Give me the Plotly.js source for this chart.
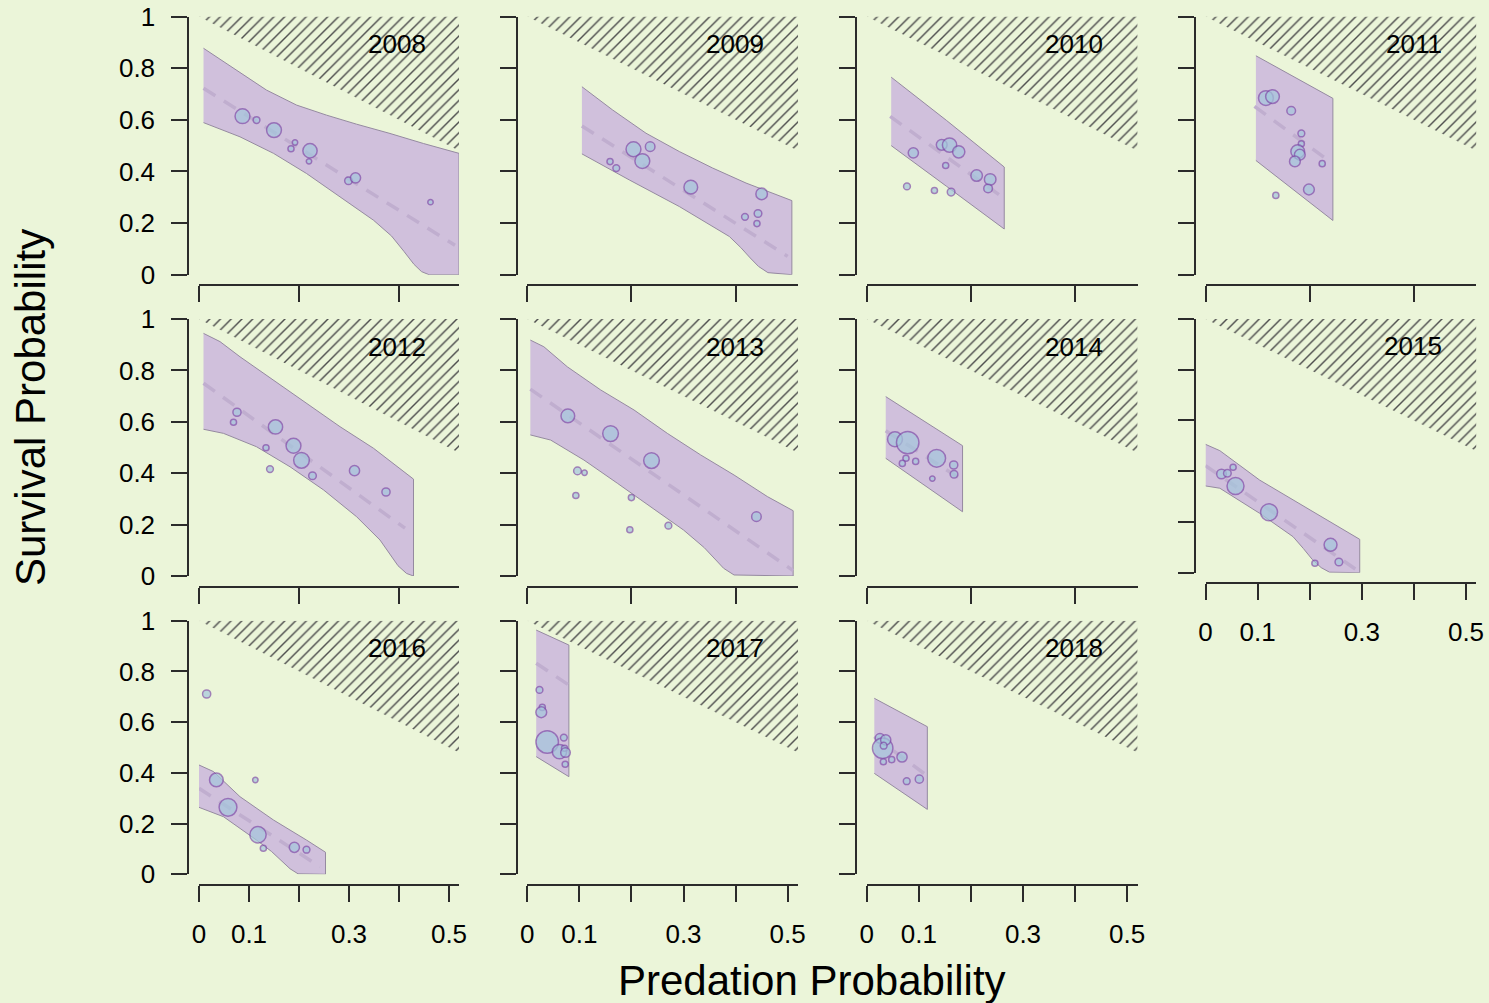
<!DOCTYPE html>
<html><head><meta charset="utf-8">
<script src="https://cdn.plot.ly/plotly-3.0.1.min.js"></script>
<style>html,body{margin:0;padding:0;background:#ebf5d9;} #chart{width:1489px;height:1003px;}</style>
</head><body><div id="chart"></div>
<script>
// ---------------- DATA ----------------
const years = ['2008','2009','2010','2011','2012','2013','2014','2015','2016','2017','2018'];

// observed points: predation probability, survival probability, relative sample size
const pointP = [
  [0.087,0.115,0.150,0.192,0.184,0.222,0.220,0.299,0.313,0.463],
  [0.159,0.171,0.204,0.236,0.221,0.314,0.450,0.418,0.443,0.441],
  [0.0895,0.0773,0.130,0.162,0.144,0.159,0.1766,0.1516,0.211,0.237,0.233],
  [0.116,0.1286,0.1645,0.184,0.184,0.177,0.181,0.1716,0.224,0.1985,0.135],
  [0.076,0.069,0.153,0.134,0.142,0.189,0.205,0.227,0.311,0.374],
  [0.078,0.160,0.2386,0.0965,0.110,0.0934,0.200,0.197,0.271,0.440],
  [0.0543,0.0787,0.0754,0.0684,0.094,0.1343,0.126,0.167,0.1676],
  [0.0307,0.042,0.053,0.0576,0.122,0.240,0.210,0.256],
  [0.0153,0.0347,0.058,0.1127,0.118,0.1287,0.1907,0.215],
  [0.0236,0.029,0.027,0.0384,0.0703,0.062,0.0716,0.0735,0.073],
  [0.0255,0.0307,0.0365,0.0326,0.032,0.048,0.0678,0.0768,0.101]
];
const pointS = [
  [0.614,0.599,0.560,0.512,0.488,0.480,0.439,0.364,0.375,0.281],
  [0.438,0.413,0.486,0.496,0.440,0.339,0.313,0.224,0.237,0.198],
  [0.472,0.342,0.326,0.320,0.503,0.502,0.476,0.423,0.384,0.369,0.334],
  [0.684,0.690,0.635,0.547,0.507,0.477,0.4645,0.4387,0.430,0.330,0.307],
  [0.637,0.598,0.580,0.499,0.416,0.507,0.450,0.390,0.410,0.327],
  [0.623,0.554,0.449,0.409,0.402,0.313,0.305,0.180,0.196,0.231],
  [0.532,0.519,0.458,0.438,0.446,0.458,0.379,0.432,0.396],
  [0.389,0.392,0.4154,0.342,0.238,0.110,0.037,0.042],
  [0.711,0.372,0.264,0.372,0.156,0.1025,0.1065,0.097],
  [0.727,0.658,0.639,0.522,0.539,0.4835,0.497,0.480,0.434],
  [0.536,0.497,0.530,0.507,0.444,0.452,0.4625,0.367,0.375]
];
const pointN = [
  [53,11,53,7,9,49,7,14,25,7],
  [9,11,53,22,53,45,32,11,14,9],
  [25,11,9,14,28,49,36,9,32,32,18],
  [53,45,18,11,9,45,28,28,9,28,9],
  [16,9,49,9,11,53,59,14,25,16],
  [45,59,59,14,7,9,9,9,11,22],
  [53,121,9,9,9,76,7,16,14],
  [22,14,9,69,69,40,9,14],
  [16,45,76,7,64,9,25,11],
  [11,9,28,121,11,49,9,22,9],
  [22,100,25,11,9,9,25,11,16]
];

// confidence band: upper and lower limits
const bandHiP = [
  [0.009,0.075,0.135,0.195,0.255,0.315,0.382,0.449,0.52],
  [0.105,0.164,0.228,0.292,0.356,0.420,0.508],
  [0.047,0.1535,0.264],
  [0.0967,0.2445],
  [0.009,0.042,0.082,0.149,0.215,0.282,0.349,0.402,0.429],
  [0.006,0.032,0.077,0.141,0.205,0.269,0.333,0.397,0.461,0.5105],
  [0.0365,0.184],
  [0.0,0.0275,0.104,0.200,0.296],
  [0.0,0.029,0.082,0.149,0.215,0.253],
  [0.0173,0.080],
  [0.0146,0.1164]
];
const bandHiS = [
  [0.877,0.793,0.715,0.657,0.618,0.583,0.547,0.508,0.47],
  [0.728,0.638,0.548,0.477,0.413,0.355,0.287],
  [0.765,0.597,0.417],
  [0.848,0.683],
  [0.944,0.912,0.853,0.763,0.672,0.581,0.497,0.419,0.377],
  [0.918,0.892,0.814,0.724,0.646,0.555,0.471,0.393,0.309,0.254],
  [0.698,0.507],
  [0.506,0.481,0.365,0.247,0.1315],
  [0.431,0.405,0.306,0.214,0.135,0.087],
  [0.963,0.904],
  [0.694,0.582]
];
const bandLoP = [
  [0.009,0.082,0.149,0.215,0.282,0.349,0.385,0.41,0.43,0.445,0.46,0.52],
  [0.105,0.196,0.292,0.388,0.410,0.428,0.444,0.462,0.508],
  [0.047,0.1535,0.264],
  [0.0967,0.2445],
  [0.009,0.049,0.115,0.182,0.249,0.315,0.362,0.382,0.398,0.415,0.429],
  [0.006,0.045,0.109,0.173,0.237,0.300,0.340,0.360,0.377,0.397,0.5105],
  [0.0365,0.184],
  [0.0,0.0275,0.104,0.168,0.188,0.205,0.222,0.238,0.296],
  [0.0,0.049,0.115,0.145,0.165,0.182,0.198,0.253],
  [0.0173,0.080],
  [0.0146,0.1164]
];
const bandLoS = [
  [0.589,0.534,0.470,0.392,0.302,0.211,0.150,0.090,0.040,0.012,0.0,0.0],
  [0.468,0.367,0.264,0.148,0.105,0.065,0.032,0.008,0.0],
  [0.500,0.342,0.177],
  [0.4425,0.210],
  [0.571,0.555,0.503,0.425,0.335,0.231,0.140,0.085,0.040,0.010,0.0],
  [0.549,0.529,0.451,0.361,0.270,0.179,0.110,0.065,0.030,0.004,0.0],
  [0.458,0.250],
  [0.342,0.333,0.234,0.142,0.095,0.052,0.020,0.002,0.0],
  [0.264,0.227,0.135,0.090,0.052,0.022,0.002,0.0],
  [0.464,0.385],
  [0.398,0.256]
];

// fitted relationship (dashed)
const fitP = [
  [0.009,0.26,0.512],[0.105,0.50],[0.045,0.2655],[0.094,0.238],[0.009,0.412],
  [0.006,0.5105],[0.0365,0.184],[0.0,0.29],[0.0,0.242],[0.0173,0.080],[0.0146,0.1164]
];
const fitS = [
  [0.722,0.42,0.114],[0.576,0.071],[0.613,0.293],[0.652,0.439],[0.750,0.186],
  [0.727,0.021],[0.565,0.373],[0.422,0.011],[0.339,0.030],[0.832,0.746],[0.543,0.388]
];

// infeasible region (survival + predation > 1)
const infeasP = [0, 0.52, 0.52];
const infeasS = [1, 1, 0.48];

// axis ticks
const yTickVals = [0,0.2,0.4,0.6,0.8,1];
const yTickText = ['0','0.2','0.4','0.6','0.8','1'];
const xTickValsTop = [0,0.2,0.4];
const xTickValsBottom = [0,0.1,0.2,0.3,0.4,0.5];
const xTickTextBottom = ['0','0.1','','0.3','','0.5'];

// ---------------- LAYOUT GEOMETRY (pixels) ----------------
const W = 1489, H = 1003;
const colX0 = [199, 527.2, 866.7, 1205.5];
const colPx = [500, 521, 521, 521];
const rowY1 = [16.5, 319, 620.7];
const rowY0 = [274.7, 576, 874.3];
const panelRow = [0,0,0,0,1,1,1,1,2,2,2];
const panelCol = [0,1,2,3,0,1,2,3,0,1,2];
const xLabelled = [false,false,false,false,false,false,false,true,true,true,true];
const XMAX = 0.52;

const BG = '#ebf5d9';
const FONT = 'Liberation Sans, Arial, sans-serif';
const AXC = '#2b2b2b';

const traces = [];
const layout = {
  width: W, height: H,
  margin: {l:0, r:0, t:0, b:0},
  paper_bgcolor: BG, plot_bgcolor: BG,
  showlegend: false,
  font: {family: FONT, size: 26, color: '#000'},
  annotations: [],
};

years.forEach((yr, i) => {
  const s = i === 0 ? '' : String(i + 1);
  const r = panelRow[i], c = panelCol[i];
  const x0 = colX0[c], x1 = colX0[c] + colPx[c] * XMAX;
  const y1 = rowY1[r];
  const y0 = (i === 7) ? 572.7 : rowY0[r];
  const xa = 'x' + s, ya = 'y' + s;

  layout['xaxis' + s] = {
    domain: [x0 / W, x1 / W], range: [0, XMAX],
    anchor: 'free', position: 1 - (y0 + 10.5) / H,
    showline: true, linecolor: AXC, linewidth: 2,
    ticks: 'outside', ticklen: 16, tickwidth: 2, tickcolor: AXC,
    tickvals: xLabelled[i] ? xTickValsBottom : xTickValsTop,
    ticktext: xLabelled[i] ? xTickTextBottom : ['', '', ''],
    showticklabels: xLabelled[i],
    ticklabelstandoff: 10,
    tickfont: {family: FONT, size: 26, color: '#000'},
    showgrid: false, zeroline: false, fixedrange: true
  };
  layout['yaxis' + s] = {
    domain: [1 - y0 / H, 1 - y1 / H], range: [0, 1],
    anchor: 'free', position: (x0 - 10.7) / W,
    showline: true, linecolor: AXC, linewidth: 2,
    ticks: 'outside', ticklen: 16, tickwidth: 2, tickcolor: AXC,
    tickvals: yTickVals, ticktext: yTickText,
    showticklabels: c === 0,
    ticklabelstandoff: 11,
    tickfont: {family: FONT, size: 26, color: '#000'},
    showgrid: false, zeroline: false, fixedrange: true
  };

  // hatched infeasible region
  traces.push({
    type: 'scatter', mode: 'lines', xaxis: xa, yaxis: ya,
    x: infeasP, y: infeasS, fill: 'toself',
    fillcolor: 'rgba(0,0,0,0)',
    fillpattern: {shape: '/', fgcolor: '#4d4d4d', bgcolor: 'rgba(0,0,0,0)', size: 7.6, solidity: 0.19},
    line: {width: 0}, hoverinfo: 'skip'
  });
  // confidence band
  const bx = bandHiP[i].concat(bandLoP[i].slice().reverse());
  const by = bandHiS[i].concat(bandLoS[i].slice().reverse());
  traces.push({
    type: 'scatter', mode: 'lines', xaxis: xa, yaxis: ya,
    x: bx, y: by, fill: 'toself', fillcolor: '#d0c0dc',
    line: {color: '#958aa0', width: 1}, hoverinfo: 'skip'
  });
  // fitted line
  traces.push({
    type: 'scatter', mode: 'lines', xaxis: xa, yaxis: ya,
    x: fitP[i], y: fitS[i],
    line: {color: '#c0aecf', width: 3.5, dash: '14px,10px'}, hoverinfo: 'skip'
  });
  // observations
  traces.push({
    type: 'scatter', mode: 'markers', xaxis: xa, yaxis: ya,
    x: pointP[i], y: pointS[i], cliponaxis: false,
    marker: {size: pointN[i], sizemode: 'area', sizeref: 0.48, sizemin: 2.6,
             color: '#a4c7dc', line: {color: '#7f4ea9', width: 1.5}}
  });

  layout.annotations.push({
    xref: xa, yref: ya, x: 0.458, y: 0.893, text: yr,
    xanchor: 'right', yanchor: 'middle', showarrow: false,
    font: {family: FONT, size: 26, color: '#000'}
  });
});

layout.annotations.push({
  xref: 'paper', yref: 'paper', x: 30 / W, y: 1 - 408 / H,
  text: 'Survival Probability', textangle: -90, showarrow: false,
  xanchor: 'center', yanchor: 'middle',
  font: {family: FONT, size: 42, color: '#000'}
});
layout.annotations.push({
  xref: 'paper', yref: 'paper', x: 812 / W, y: 1 - 980 / H,
  text: 'Predation Probability', showarrow: false,
  xanchor: 'center', yanchor: 'middle',
  font: {family: FONT, size: 42, color: '#000'}
});

Plotly.newPlot('chart', traces, layout, {displayModeBar: false, staticPlot: true});
</script>
</body></html>
